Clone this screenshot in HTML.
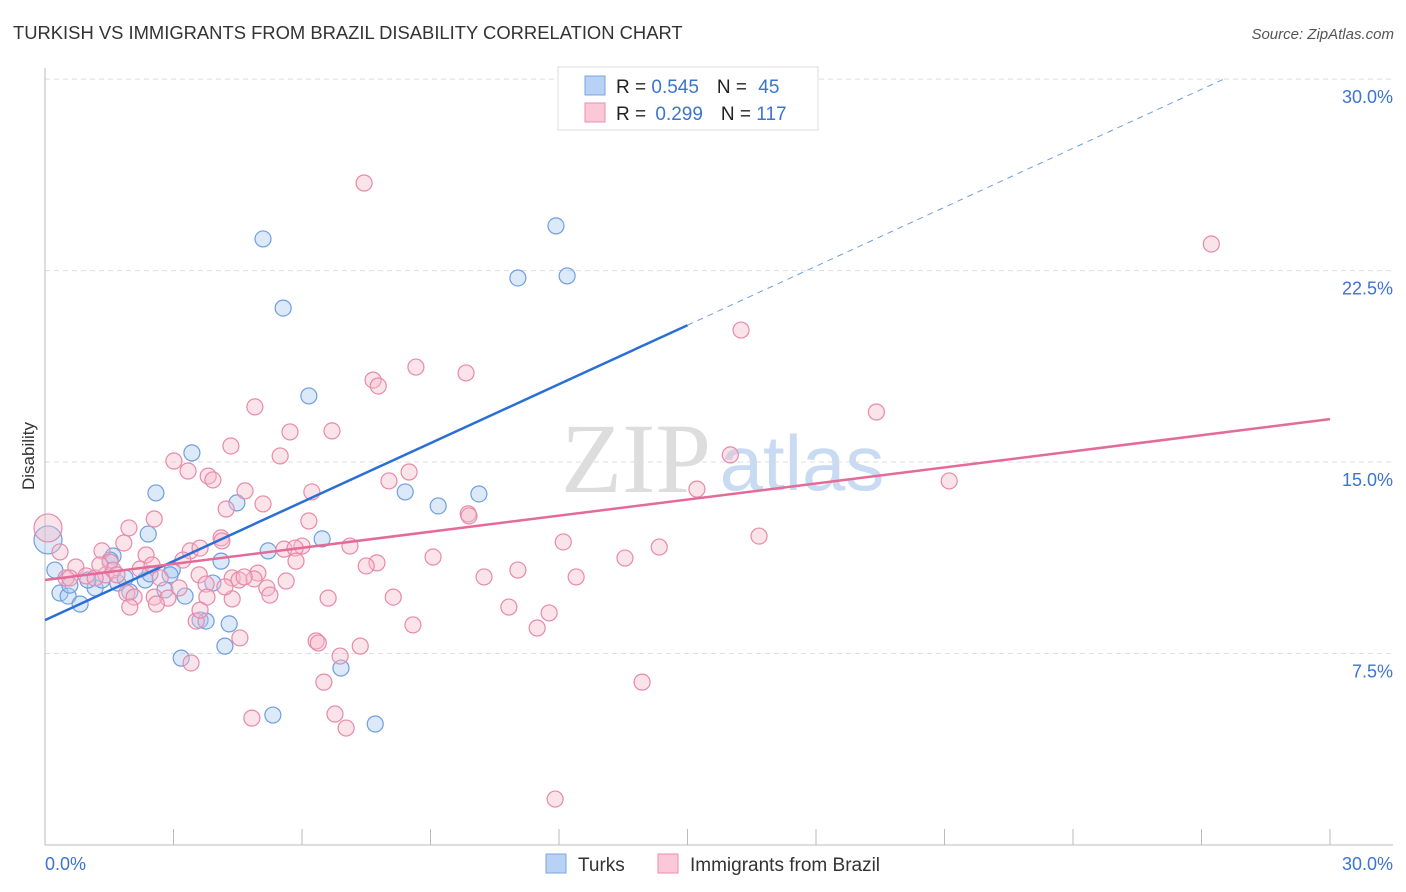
<!DOCTYPE html>
<html><head><meta charset="utf-8"><style>
body{margin:0;background:#fff;font-family:"Liberation Sans",sans-serif}
svg{display:block}
</style></head><body>
<svg id="chart" width="1406" height="892">
<text x="13" y="39" font-size="18.4" fill="#333">TURKISH VS IMMIGRANTS FROM BRAZIL DISABILITY CORRELATION CHART</text>
<text x="1394" y="39" font-size="15" fill="#555" font-style="italic" text-anchor="end">Source: ZipAtlas.com</text>
<text x="636" y="492" font-size="100" fill="#ddd" font-family="Liberation Serif" text-anchor="middle">ZIP</text>
<text x="802" y="490" font-size="78" fill="#c8dbf3" text-anchor="middle">atlas</text>
<text x="34" y="456" font-size="17" fill="#333" text-anchor="middle" transform="rotate(-90 34 456)">Disability</text>
<g id="grid"></g><g id="axes"></g><g id="pts"></g><g id="lines"></g>
<g>
<rect x="558" y="67" width="260" height="63" fill="#fff" stroke="#ddd"/>
<rect x="585" y="76" width="20" height="19" fill="#b7d2f5" stroke="#7aa6e0"/>
<rect x="585" y="103" width="20" height="19" fill="#fbc8d7" stroke="#eb8fae"/>
<text x="616" y="93" font-size="19" fill="#222">R = <tspan fill="#3b74d1">0.545</tspan><tspan dx="18">N = </tspan><tspan fill="#3b74d1" dx="6">45</tspan></text>
<text x="616" y="120" font-size="19" fill="#222">R = <tspan fill="#3b74d1" dx="4">0.299</tspan><tspan dx="18">N = </tspan><tspan fill="#3b74d1">117</tspan></text>
</g>
<g>
<rect x="546" y="854" width="20" height="19" fill="#b7d2f5" stroke="#7aa6e0"/>
<text x="578" y="871" font-size="19" fill="#333">Turks</text>
<rect x="658" y="854" width="20" height="19" fill="#fbc8d7" stroke="#eb8fae"/>
<text x="690" y="871" font-size="19" fill="#333">Immigrants from Brazil</text>
</g>
</svg>
<script>
const yTicks=[7.5,15,22.5,30];
const yTickLabels=["7.5%","15.0%","22.5%","30.0%"];
const xTickLabels=["0.0%","30.0%"];
const turksX=[5.09,11.93,11.04,12.19,5.56,6.16,3.43,2.59,4.48,8.41,9.18,10.13,2.41,6.47,5.21,4.11,1.59,0.35,0.54,0.82,1.17,1.33,1.70,1.87,2.34,2.80,2.97,3.27,3.92,3.62,3.76,4.30,4.20,3.18,6.91,5.32,7.71,0.07,0.23,1.98,1.52,1.00,0.58,2.92,2.45];
const turksY=[23.74,24.25,22.21,22.29,21.03,17.59,15.36,13.79,13.40,13.83,13.28,13.75,12.18,11.99,11.52,11.12,11.32,9.87,9.75,9.44,10.07,10.38,10.26,10.46,10.38,9.99,10.77,9.75,10.26,8.81,8.77,8.66,7.79,7.32,6.93,5.09,4.74,11.95,10.77,9.91,11.16,10.38,10.18,10.58,10.62];
const brazilX=[7.45,27.23,16.25,8.66,9.83,7.66,7.78,4.90,19.41,5.72,6.70,4.34,5.49,16.00,3.01,3.34,8.50,3.81,3.92,21.11,8.03,15.22,4.67,6.23,5.09,4.23,9.88,9.90,2.55,6.16,1.96,4.11,4.13,16.67,12.10,7.12,14.34,6.00,0.07,0.35,1.84,1.33,2.36,3.39,3.62,5.58,5.84,9.06,13.54,7.75,7.50,5.86,3.22,1.52,0.72,2.22,4.97,11.04,3.60,4.37,4.53,4.88,5.63,10.25,12.40,0.49,0.96,1.42,1.17,2.69,3.76,5.18,5.25,3.13,1.91,2.08,2.55,2.87,4.37,3.78,6.61,8.13,2.60,1.98,10.83,11.77,3.53,8.59,11.49,4.55,6.33,6.38,7.36,6.89,3.41,6.51,13.94,4.83,6.77,7.03,11.91,0.58,1.59,1.28,2.50,4.20,4.65,3.62,1.68];
const brazilY=[25.93,23.54,20.17,18.72,18.49,18.21,17.98,17.16,16.96,16.18,16.22,15.63,15.24,15.28,15.04,14.65,14.61,14.45,14.30,14.26,14.26,13.94,13.87,13.83,13.36,13.16,12.97,12.89,12.77,12.69,12.42,12.03,11.91,12.10,11.87,11.71,11.67,11.71,12.42,11.48,11.83,11.52,11.36,11.52,11.63,11.59,11.63,11.28,11.24,11.05,10.93,11.12,11.16,11.08,10.89,10.81,10.65,10.77,10.58,10.46,10.38,10.42,10.34,10.50,10.50,10.46,10.54,10.58,10.46,10.46,10.22,10.07,9.79,10.07,9.87,9.71,9.71,9.67,9.64,9.71,9.67,9.71,9.44,9.32,9.32,9.09,8.77,8.62,8.50,8.11,7.99,7.91,7.79,7.40,7.13,6.38,6.38,4.97,5.13,4.58,1.80,10.46,10.77,10.97,10.97,10.11,10.50,9.20,10.58];
const turksLine=[8.81,0.77];
const brazilLine=[10.38,0.21];
const NS="http://www.w3.org/2000/svg";
const X=v=>45+v*42.833, Y=v=>845-v*25.53;
function mk(t,a,p){const e=document.createElementNS(NS,t);for(const k in a)e.setAttribute(k,a[k]);document.getElementById(p).appendChild(e);return e;}
yTicks.forEach((t,i)=>{
  const g=mk('line',{x1:45,x2:1393,y1:Y(t),y2:Y(t),stroke:'#ddd','stroke-dasharray':'5,4'},'grid');
  
  
  const l=mk('text',{x:1393,y:Y(t)+24,'font-size':18,fill:'#3b74d1','text-anchor':'end'},'axes');
  l.textContent=yTickLabels[i];
  
  
});
const ax=mk('line',{x1:45,x2:45,y1:68,y2:845,stroke:'#bbb'},'axes');


const bx=mk('line',{x1:45,x2:1393,y1:845,y2:845,stroke:'#bbb'},'axes');


for(let i=0;i<=10;i++){
  const t=mk('line',{x1:X(i*3),x2:X(i*3),y1:829,y2:845,stroke:'#bbb'},'axes');
  
  
}
[[0,'start'],[30,'end']].forEach((d,i)=>{
  const l=mk('text',{x:i?1393:45,y:870,'font-size':18,fill:'#3b74d1','text-anchor':d[1]},'axes');
  l.textContent=xTickLabels[i];
  
  
});
function pts(xs,ys,fill,stroke,name){
  xs.forEach((x,i)=>{
    const big=x<0.1;
    const c=mk('circle',{cx:X(x),cy:Y(ys[i]),r:big?14:8,fill:fill,'fill-opacity':0.4,stroke:stroke,'stroke-width':1.2},'pts');
    
    
  });
}
pts(turksX,turksY,'#a8c8f0','#6e9ee0','turks-point');
pts(brazilX,brazilY,'#f5b8cb','#e889aa','brazil-point');
const tl=mk('line',{x1:X(0),y1:Y(turksLine[0]),x2:X(15),y2:Y(turksLine[0]+15*turksLine[1]),stroke:'#2a6fd6','stroke-width':2.5},'lines');


const xe=(30-turksLine[0])/turksLine[1];
const td=mk('line',{x1:X(15),y1:Y(turksLine[0]+15*turksLine[1]),x2:X(xe),y2:Y(30),stroke:'#6e9ee0','stroke-width':1,'stroke-dasharray':'6,5'},'lines');


const bl=mk('line',{x1:X(0),y1:Y(brazilLine[0]),x2:X(30),y2:Y(brazilLine[0]+30*brazilLine[1]),stroke:'#e56a97','stroke-width':2.5},'lines');


</script>
</body></html>
